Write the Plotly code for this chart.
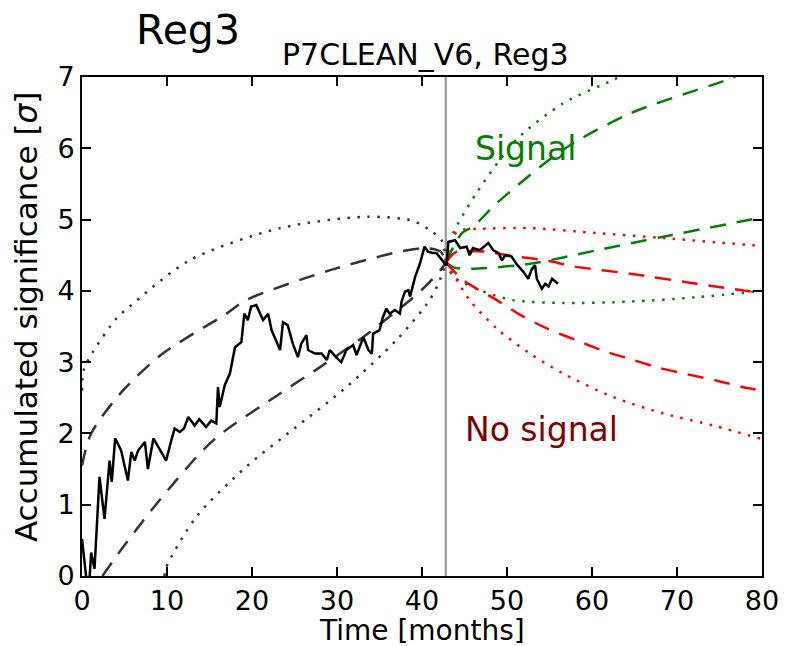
import plotly.graph_objects as go

# ---- observed accumulated significance (months, sigma) ----
obs_t = [0.0, 0.5, 0.75, 1.08, 1.47, 2.06, 2.65, 3.24, 3.5, 3.9, 4.6, 5.4, 5.8, 6.2, 6.6,
         7.4, 7.75, 8.4, 9.1, 9.9, 10.5, 10.9, 11.5, 12.0, 12.5, 13.25, 13.8, 14.6, 15.2,
         15.8, 16.0, 16.2, 16.8, 17.4, 18.0, 18.75, 19.1, 19.5, 19.9, 20.5, 21.3, 21.9,
         22.3, 23.3, 23.65, 24.2, 24.8, 25.4, 25.8, 26.4, 26.6, 27.4, 28.2, 28.8, 29.15,
         29.8, 30.5, 31.1, 31.9, 32.3, 33.1, 33.7, 34.1, 34.25, 35.0, 35.4, 35.8, 36.2,
         36.8, 37.4, 37.6, 38.0, 38.4, 38.6, 39.2, 39.75, 40.3, 40.7, 41.3, 41.7, 42.5,
         42.9, 43.1, 43.9, 44.5, 45.25, 45.6, 46.0, 46.8, 47.8, 48.4, 49.0, 49.4, 49.8,
         50.55, 51.1, 51.9, 52.5, 52.9, 53.3, 53.5, 54.1, 54.5, 54.9, 55.3, 56.0]
obs_s = [0.52, 0.0, -0.3, 0.33, 0.1, 1.39, 0.8, 1.62, 1.32, 1.93, 1.76, 1.34, 1.74, 1.62, 1.76,
         1.88, 1.5, 1.93, 1.79, 1.62, 1.9, 2.07, 2.02, 2.07, 2.23, 2.11, 2.2, 2.09, 2.18,
         2.14, 2.65, 2.37, 2.68, 2.84, 3.21, 3.28, 3.68, 3.59, 3.78, 3.8, 3.59, 3.68,
         3.45, 3.17, 3.56, 3.52, 3.26, 3.07, 3.26, 3.38, 3.17, 3.12, 3.12, 3.03, 3.17,
         3.08, 3.0, 3.17, 3.24, 3.1, 3.35, 3.17, 3.12, 3.4, 3.45, 3.63, 3.75, 3.68,
         3.73, 3.68, 3.85, 3.99, 4.01, 3.92, 4.2, 4.38, 4.62, 4.55, 4.53, 4.53, 4.41,
         4.36, 4.69, 4.71, 4.6, 4.62, 4.5, 4.6, 4.57, 4.67, 4.57, 4.53, 4.43, 4.5,
         4.48, 4.38, 4.27, 4.17, 4.3, 4.36, 4.17, 4.03, 4.1, 4.06, 4.17, 4.1]

# current time marker
t_now = 42.8
sig_range = [0, 7]

# ---- backward projections (black) ----
back_hi_dash_t = [0.0, 1.08, 4.8, 9.5, 17.0, 19.3, 29.2, 37.4, 40.5, 42.2, 42.8]
back_hi_dash_s = [1.55, 2.0, 2.6, 3.12, 3.68, 3.87, 4.29, 4.55, 4.6, 4.55, 4.4]
back_lo_dash_t = [2.4, 4.8, 9.1, 15.4, 23.3, 28.0, 33.05, 38.8, 40.1, 41.5, 42.3, 42.8]
back_lo_dash_s = [0.0, 0.4, 1.06, 1.9, 2.56, 2.93, 3.35, 3.89, 4.03, 4.2, 4.31, 4.4]
back_hi_dot_t = [0.0, 0.2, 1.27, 4.03, 5.8, 12.66, 23.3, 33.5, 38.96, 41.3, 42.3, 42.6, 42.8]
back_hi_dot_s = [2.6, 2.89, 3.14, 3.61, 3.8, 4.43, 4.88, 5.04, 4.98, 4.82, 4.71, 4.6, 4.4]
back_lo_dot_t = [9.7, 9.9, 13.45, 19.3, 25.2, 31.1, 37.0, 40.9, 42.1, 42.8]
back_lo_dot_s = [0.0, 0.12, 0.83, 1.53, 2.09, 2.65, 3.31, 3.87, 4.15, 4.4]

# ---- forward projections, signal hypothesis (green) ----
sig_hi_dot_t = [42.8, 43.2, 43.67, 46.4, 51.1, 56.6, 62.5, 64.0]
sig_hi_dot_s = [4.4, 4.62, 4.81, 5.37, 6.12, 6.63, 6.96, 7.05]
sig_hi_dash_t = [42.8, 44.7, 46.0, 48.8, 56.6, 64.5, 76.3, 77.5]
sig_hi_dash_s = [4.4, 4.81, 4.9, 5.23, 5.98, 6.49, 6.98, 7.05]
sig_lo_dash_t = [42.8, 43.7, 45.8, 52.7, 60.6, 68.4, 80.0]
sig_lo_dash_s = [4.4, 4.33, 4.31, 4.38, 4.57, 4.76, 5.03]
sig_lo_dot_t = [42.8, 43.7, 46.8, 50.7, 56.6, 64.5, 72.3, 80.0]
sig_lo_dot_s = [4.4, 4.2, 4.01, 3.87, 3.83, 3.85, 3.91, 4.0]

# ---- forward projections, no-signal hypothesis (red) ----
bkg_hi_dot_t = [42.8, 43.5, 44.5, 46.8, 52.7, 60.6, 68.4, 80.0]
bkg_hi_dot_s = [4.4, 4.75, 4.85, 4.87, 4.88, 4.81, 4.74, 4.63]
bkg_hi_dash_t = [42.8, 43.5, 44.1, 47.4, 51.1, 54.5, 58.0, 64.5, 72.3, 80.0]
bkg_hi_dash_s = [4.4, 4.5, 4.55, 4.55, 4.48, 4.43, 4.34, 4.24, 4.1, 3.97]
bkg_lo_dash_t = [42.8, 44.85, 48.8, 51.6, 54.75, 58.1, 61.3, 64.6, 67.9, 71.2, 74.7, 78.1, 80.0]
bkg_lo_dash_s = [4.4, 4.15, 3.87, 3.66, 3.47, 3.31, 3.16, 3.04, 2.92, 2.83, 2.74, 2.64, 2.6]
bkg_lo_dot_t = [42.8, 44.1, 45.6, 48.8, 52.7, 56.6, 62.5, 68.4, 74.3, 80.0]
bkg_lo_dot_s = [4.4, 4.15, 3.87, 3.47, 3.12, 2.84, 2.51, 2.28, 2.11, 1.92]

x_ticks = list(range(0, 81, 10))
y_ticks = list(range(0, 8))

FONT = "DejaVu Sans"
DASH = "16px,11px"
DOT = "2.5px,7.5px"
GREY = "#333333"
GREEN = "#008000"
RED = "#ff0000"

fig = go.Figure()

fig.add_trace(go.Scatter(x=[t_now, t_now], y=sig_range, mode="lines",
                         line=dict(color="#999999", width=2.2), hoverinfo="skip"))


def curve(t, s, color, dash):
    fig.add_trace(go.Scatter(x=t, y=s, mode="lines",
                             line=dict(color=color, width=2.5, dash=dash, shape="spline",
                                       smoothing=0.8),
                             hoverinfo="skip"))


curve(back_hi_dot_t, back_hi_dot_s, GREY, DOT)
curve(back_lo_dot_t, back_lo_dot_s, GREY, DOT)
curve(back_hi_dash_t, back_hi_dash_s, GREY, DASH)
curve(back_lo_dash_t, back_lo_dash_s, GREY, DASH)

curve(sig_hi_dot_t, sig_hi_dot_s, GREEN, DOT)
curve(sig_lo_dot_t, sig_lo_dot_s, GREEN, DOT)
curve(sig_hi_dash_t, sig_hi_dash_s, GREEN, DASH)
curve(sig_lo_dash_t, sig_lo_dash_s, GREEN, DASH)

curve(bkg_hi_dot_t, bkg_hi_dot_s, RED, DOT)
curve(bkg_lo_dot_t, bkg_lo_dot_s, RED, DOT)
curve(bkg_hi_dash_t, bkg_hi_dash_s, RED, DASH)
curve(bkg_lo_dash_t, bkg_lo_dash_s, RED, DASH)

fig.add_trace(go.Scatter(x=obs_t, y=obs_s, mode="lines",
                         line=dict(color="black", width=2.5), hoverinfo="skip"))

axis_common = dict(
    showgrid=False, zeroline=False, showline=True, linecolor="black", linewidth=2,
    mirror="ticks", ticks="inside", ticklen=9, tickwidth=1.5, tickcolor="black",
    tickfont=dict(family=FONT, size=27, color="black"), automargin=False,
)
fig.update_xaxes(range=[0, 80], tickvals=x_ticks, **axis_common)
fig.update_yaxes(range=sig_range, tickvals=y_ticks, **axis_common)

annotations = [
    dict(text="Reg3", x=0.077, y=1.094, xref="paper", yref="paper", xanchor="left",
         yanchor="middle", showarrow=False, font=dict(family=FONT, size=41, color="black")),
    dict(text="P7CLEAN_V6, Reg3", x=0.5055, y=1.045, xref="paper", yref="paper",
         xanchor="center", yanchor="middle", showarrow=False,
         font=dict(family=FONT, size=30, color="black")),
    dict(text="Time [months]", x=0.5, y=-0.110, xref="paper", yref="paper",
         xanchor="center", yanchor="middle", showarrow=False,
         font=dict(family=FONT, size=28, color="black")),
    dict(text="Accumulated significance [<i>σ</i>]", x=-0.083, y=0.518, xref="paper",
         yref="paper", xanchor="center", yanchor="middle", textangle=-90, showarrow=False,
         font=dict(family=FONT, size=31, color="black")),
    dict(text="Signal", x=46.0, y=6.0, xref="x", yref="y", xanchor="left",
         yanchor="middle", showarrow=False, font=dict(family=FONT, size=33, color=GREEN)),
    dict(text="No signal", x=44.85, y=2.06, xref="x", yref="y", xanchor="left",
         yanchor="middle", showarrow=False, font=dict(family=FONT, size=33, color="#800000")),
]

fig.update_layout(
    width=785, height=646,
    margin=dict(l=82, r=23, t=77, b=70, pad=0),
    paper_bgcolor="white", plot_bgcolor="white",
    showlegend=False,
    annotations=annotations,
    font=dict(family=FONT),
)

fig.write_html("out.html")
